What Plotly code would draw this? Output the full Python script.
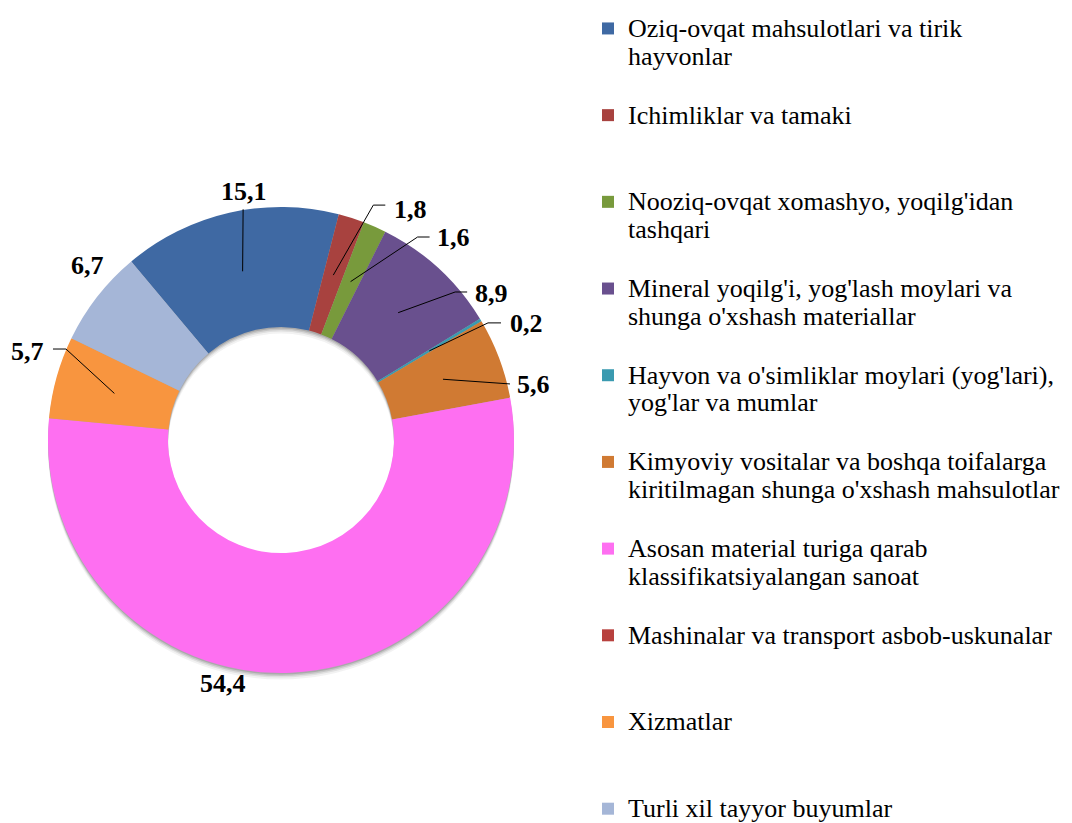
import math
import textwrap
import plotly.graph_objects as go

# ---------------- data ----------------
categories = [
    "Oziq-ovqat mahsulotlari va tirik hayvonlar",
    "Ichimliklar va tamaki",
    "Nooziq-ovqat xomashyo, yoqilg'idan tashqari",
    "Mineral yoqilg'i, yog'lash moylari va shunga o'xshash materiallar",
    "Hayvon va o'simliklar moylari (yog'lari), yog'lar va mumlar",
    "Kimyoviy vositalar va boshqa toifalarga kiritilmagan shunga o'xshash mahsulotlar",
    "Asosan material turiga qarab klassifikatsiyalangan sanoat",
    "Mashinalar va transport asbob-uskunalar",
    "Xizmatlar",
    "Turli xil tayyor buyumlar",
]
values = [15.1, 1.8, 1.6, 8.9, 0.2, 5.6, 54.4, 0.0, 5.7, 6.7]
colors = [
    "#3F69A3", "#A8423F", "#789A3C", "#69508E", "#3A9AB0",
    "#D07A33", "#FE6FF1", "#B8413E", "#F8953F", "#A5B6D7",
]

# ---------------- geometry / style ----------------
W, H = 1072, 823
CX, CY, R_OUT = 281, 440, 233
HOLE = 0.485
START = -40.0          # first slice starts 40 deg left of 12 o'clock
SERIF = "Liberation Serif"
R_MID = R_OUT * (1 + HOLE) / 2

def px(x):
    return x / W

def py(y):
    return 1 - y / H

dom_x = [px(CX - R_OUT), px(CX + R_OUT)]
dom_y = [py(CY + R_OUT), py(CY - R_OUT)]

# label placement (text offset from slice anchor, elbow offset, tail length) in px
label_style = {
    0: ((1.5, -80), (0.5, -62), 0),
    1: ((77, -66), (40, -70), 12),
    2: ((103, -44), (67, -44.6), 12),
    3: ((93, -19), (57, -20.7), 12),
    4: ((97, -27), (58.7, -28), 13),
    5: ((91, 5.7), (67, 4.7), 0),
    6: ((-66, 71), None, 0),
    8: ((-86.4, -42.4), (-48.4, -44.4), -13),
    9: ((-56.6, -68.6), None, 0),
}

fig = go.Figure()

# soft drop shadow under the ring
for off, alpha in [(6.5, 0.05), (4.5, 0.08), (3, 0.11), (1.5, 0.14)]:
    fig.add_trace(go.Pie(
        values=[1], labels=["shadow"], hole=HOLE, sort=False,
        marker=dict(colors=[f"rgba(0,0,0,{alpha})"], line=dict(width=0)),
        textinfo="none", hoverinfo="skip", showlegend=False,
        domain=dict(x=dom_x, y=[dom_y[0] - off / H, dom_y[1] - off / H]),
    ))

legend_labels = []
for i, c in enumerate(categories):
    lines = textwrap.wrap(c, width=41)
    if i < len(categories) - 1:
        while len(lines) < 3:
            lines.append(" ")
    legend_labels.append(
        "<br>".join(f"<span style='font-size:26px'>{ln}</span>" for ln in lines)
    )

fig.add_trace(go.Pie(
    labels=legend_labels,
    values=values,
    hole=HOLE,
    sort=False,
    direction="clockwise",
    rotation=START,
    marker=dict(colors=colors, line=dict(width=0)),
    textinfo="none",
    hovertext=categories,
    hoverinfo="text+value",
    domain=dict(x=dom_x, y=dom_y),
    showlegend=True,
))

# data labels with leader lines
total = sum(values)
annotations = []
shapes = []
cum = 0.0
for i, v in enumerate(values):
    a0 = START + cum / total * 360
    cum += v
    a1 = START + cum / total * 360
    if v <= 0 or i not in label_style:
        continue
    mid = math.radians((a0 + a1) / 2)
    ax_ = CX + R_MID * math.sin(mid)
    ay_ = CY - R_MID * math.cos(mid)
    (tdx, tdy), elbow, tail = label_style[i]
    annotations.append(dict(
        x=px(ax_ + tdx), y=py(ay_ + tdy), xref="paper", yref="paper",
        text="<b>" + f"{v:.1f}".replace(".", ",") + "</b>",
        showarrow=False, xanchor="center", yanchor="middle",
        font=dict(family=SERIF, size=26, color="black"),
    ))
    if elbow is not None:
        ex, ey = ax_ + elbow[0], ay_ + elbow[1]
        path = f"M {px(ax_)} {py(ay_)} L {px(ex)} {py(ey)}"
        if tail:
            path += f" L {px(ex + tail)} {py(ey)}"
        shapes.append(dict(type="path", path=path, xref="paper", yref="paper",
                           line=dict(color="black", width=1)))

fig.update_layout(
    width=W, height=H,
    margin=dict(l=0, r=0, t=0, b=0, autoexpand=False),
    paper_bgcolor="white", plot_bgcolor="white",
    annotations=annotations,
    shapes=shapes,
    legend=dict(
        x=588 / W, xanchor="left", y=1 - 8 / H, yanchor="top",
        font=dict(family=SERIF, size=21.46, color="black"),
        valign="top", bgcolor="rgba(0,0,0,0)", borderwidth=0,
        maxheight=900,
    ),
)

fig.write_html(
    "out.html",
    config={"displayModeBar": False},
    post_script="document.body.style.margin='0px';",
)
